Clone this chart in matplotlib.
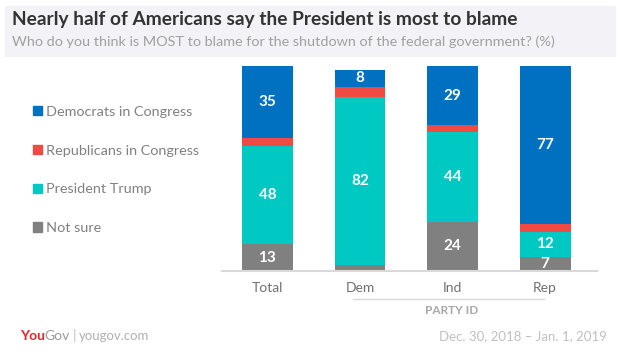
import matplotlib.pyplot as plt
import matplotlib.patches as mpatches
import numpy as np

plt.rcParams['font.family'] = ['Lato', 'DejaVu Sans']

# Dados
grupos = ["Total", "Dem", "Ind", "Rep"]
series = ["Democrats in Congress", "Republicans in Congress", "President Trump", "Not sure"]
nao_sabe = [13, 3, 24, 7]
trump = [48, 82, 44, 12]
republicanos = [4, 5, 3, 4]
democratas = [35, 8, 29, 77]
cores = {"Democrats in Congress": "#0070c0", "Republicans in Congress": "#f04a42",
         "President Trump": "#00c8c2", "Not sure": "#808080"}

fig = plt.figure(figsize=(6.2, 3.5), dpi=100)
fig.patch.set_facecolor("white")

# Faixa do cabeçalho
fig.patches.append(mpatches.Rectangle((5 / 620, 1 - 56 / 350), 610 / 620, 50 / 350,
                                      transform=fig.transFigure, color="#f3f2f6", zorder=0))
fig.text(12 / 620, 1 - 19 / 350, "Nearly half of Americans say the President is most to blame",
         fontsize=13.8, fontweight="bold", color="#333333", va="center")
fig.text(12 / 620, 1 - 42 / 350,
         "Who do you think is MOST to blame for the shutdown of the federal government? (%)",
         fontsize=10.4, color="#a0a0a0", va="center")

ax = fig.add_axes([222 / 620, 1 - 271 / 350, 375 / 620, 205 / 350])
x = np.arange(len(grupos))
largura = 0.55

camadas = [("Not sure", nao_sabe), ("President Trump", trump),
           ("Republicans in Congress", republicanos), ("Democrats in Congress", democratas)]
base = np.zeros(len(grupos))
for nome, valores in camadas:
    valores = np.array(valores)
    ax.bar(x, valores, largura, bottom=base, color=cores[nome], zorder=2)
    if nome != "Republicans in Congress":
        for xi, b, v in zip(x, base, valores):
            if v >= 6:
                ax.text(xi, b + v / 2, str(v), ha="center", va="center", color="white",
                        fontsize=11, fontweight="bold", zorder=3)
    base += valores

ax.set_xlim(-0.49, 3.56)
ax.set_ylim(0, 100)
for s in ["top", "right", "left"]:
    ax.spines[s].set_visible(False)
ax.spines["bottom"].set_color("#d9d9d9")
ax.spines["bottom"].set_linewidth(1.5)
ax.set_yticks([])
ax.set_xticks(x)
ax.set_xticklabels(grupos, fontsize=10, color="#707070")
ax.tick_params(axis="x", length=0, pad=8)

# PARTY ID
fig.add_artist(plt.Line2D([353 / 620, 544 / 620], [1 - 299 / 350] * 2,
                          transform=fig.transFigure, color="#d9d9d9", lw=1))
fig.text(452 / 620, 1 - 310 / 350, "PARTY ID", fontsize=8.5, fontweight="bold",
         color="#a8a8a8", ha="center", va="center")

# Legenda
handles = [mpatches.Patch(color=cores[s], label=s) for s in series]
fig.legend(handles=handles, loc="upper left", bbox_to_anchor=(20 / 620, 1 - 93 / 350),
           frameon=False, fontsize=10.4, labelcolor="#808080", handlelength=0.6,
           handleheight=0.6, handletextpad=0.3, labelspacing=1.85)

# Rodapé
yr = 1 - 336 / 350
fig.canvas.draw()
renderer = fig.canvas.get_renderer()
xpos = 20
for texto, kw, gap in [("You", dict(fontweight="bold", color="#e3262c", fontsize=10), -1),
                       ("Gov", dict(color="#9a9a9a", fontsize=10), 3),
                       ("|", dict(color="#c0c0c0", fontsize=10), 3),
                       ("yougov.com", dict(color="#b0b0b0", fontsize=9.5), 0)]:
    t = fig.text(xpos / 620, yr, texto, va="center", **kw)
    xpos += t.get_window_extent(renderer).width + gap
fig.text(607 / 620, yr, "Dec. 30, 2018 – Jan. 1, 2019", fontsize=9.5,
         color="#c0c0c0", ha="right", va="center")

fig.savefig("out.png", dpi=100)
